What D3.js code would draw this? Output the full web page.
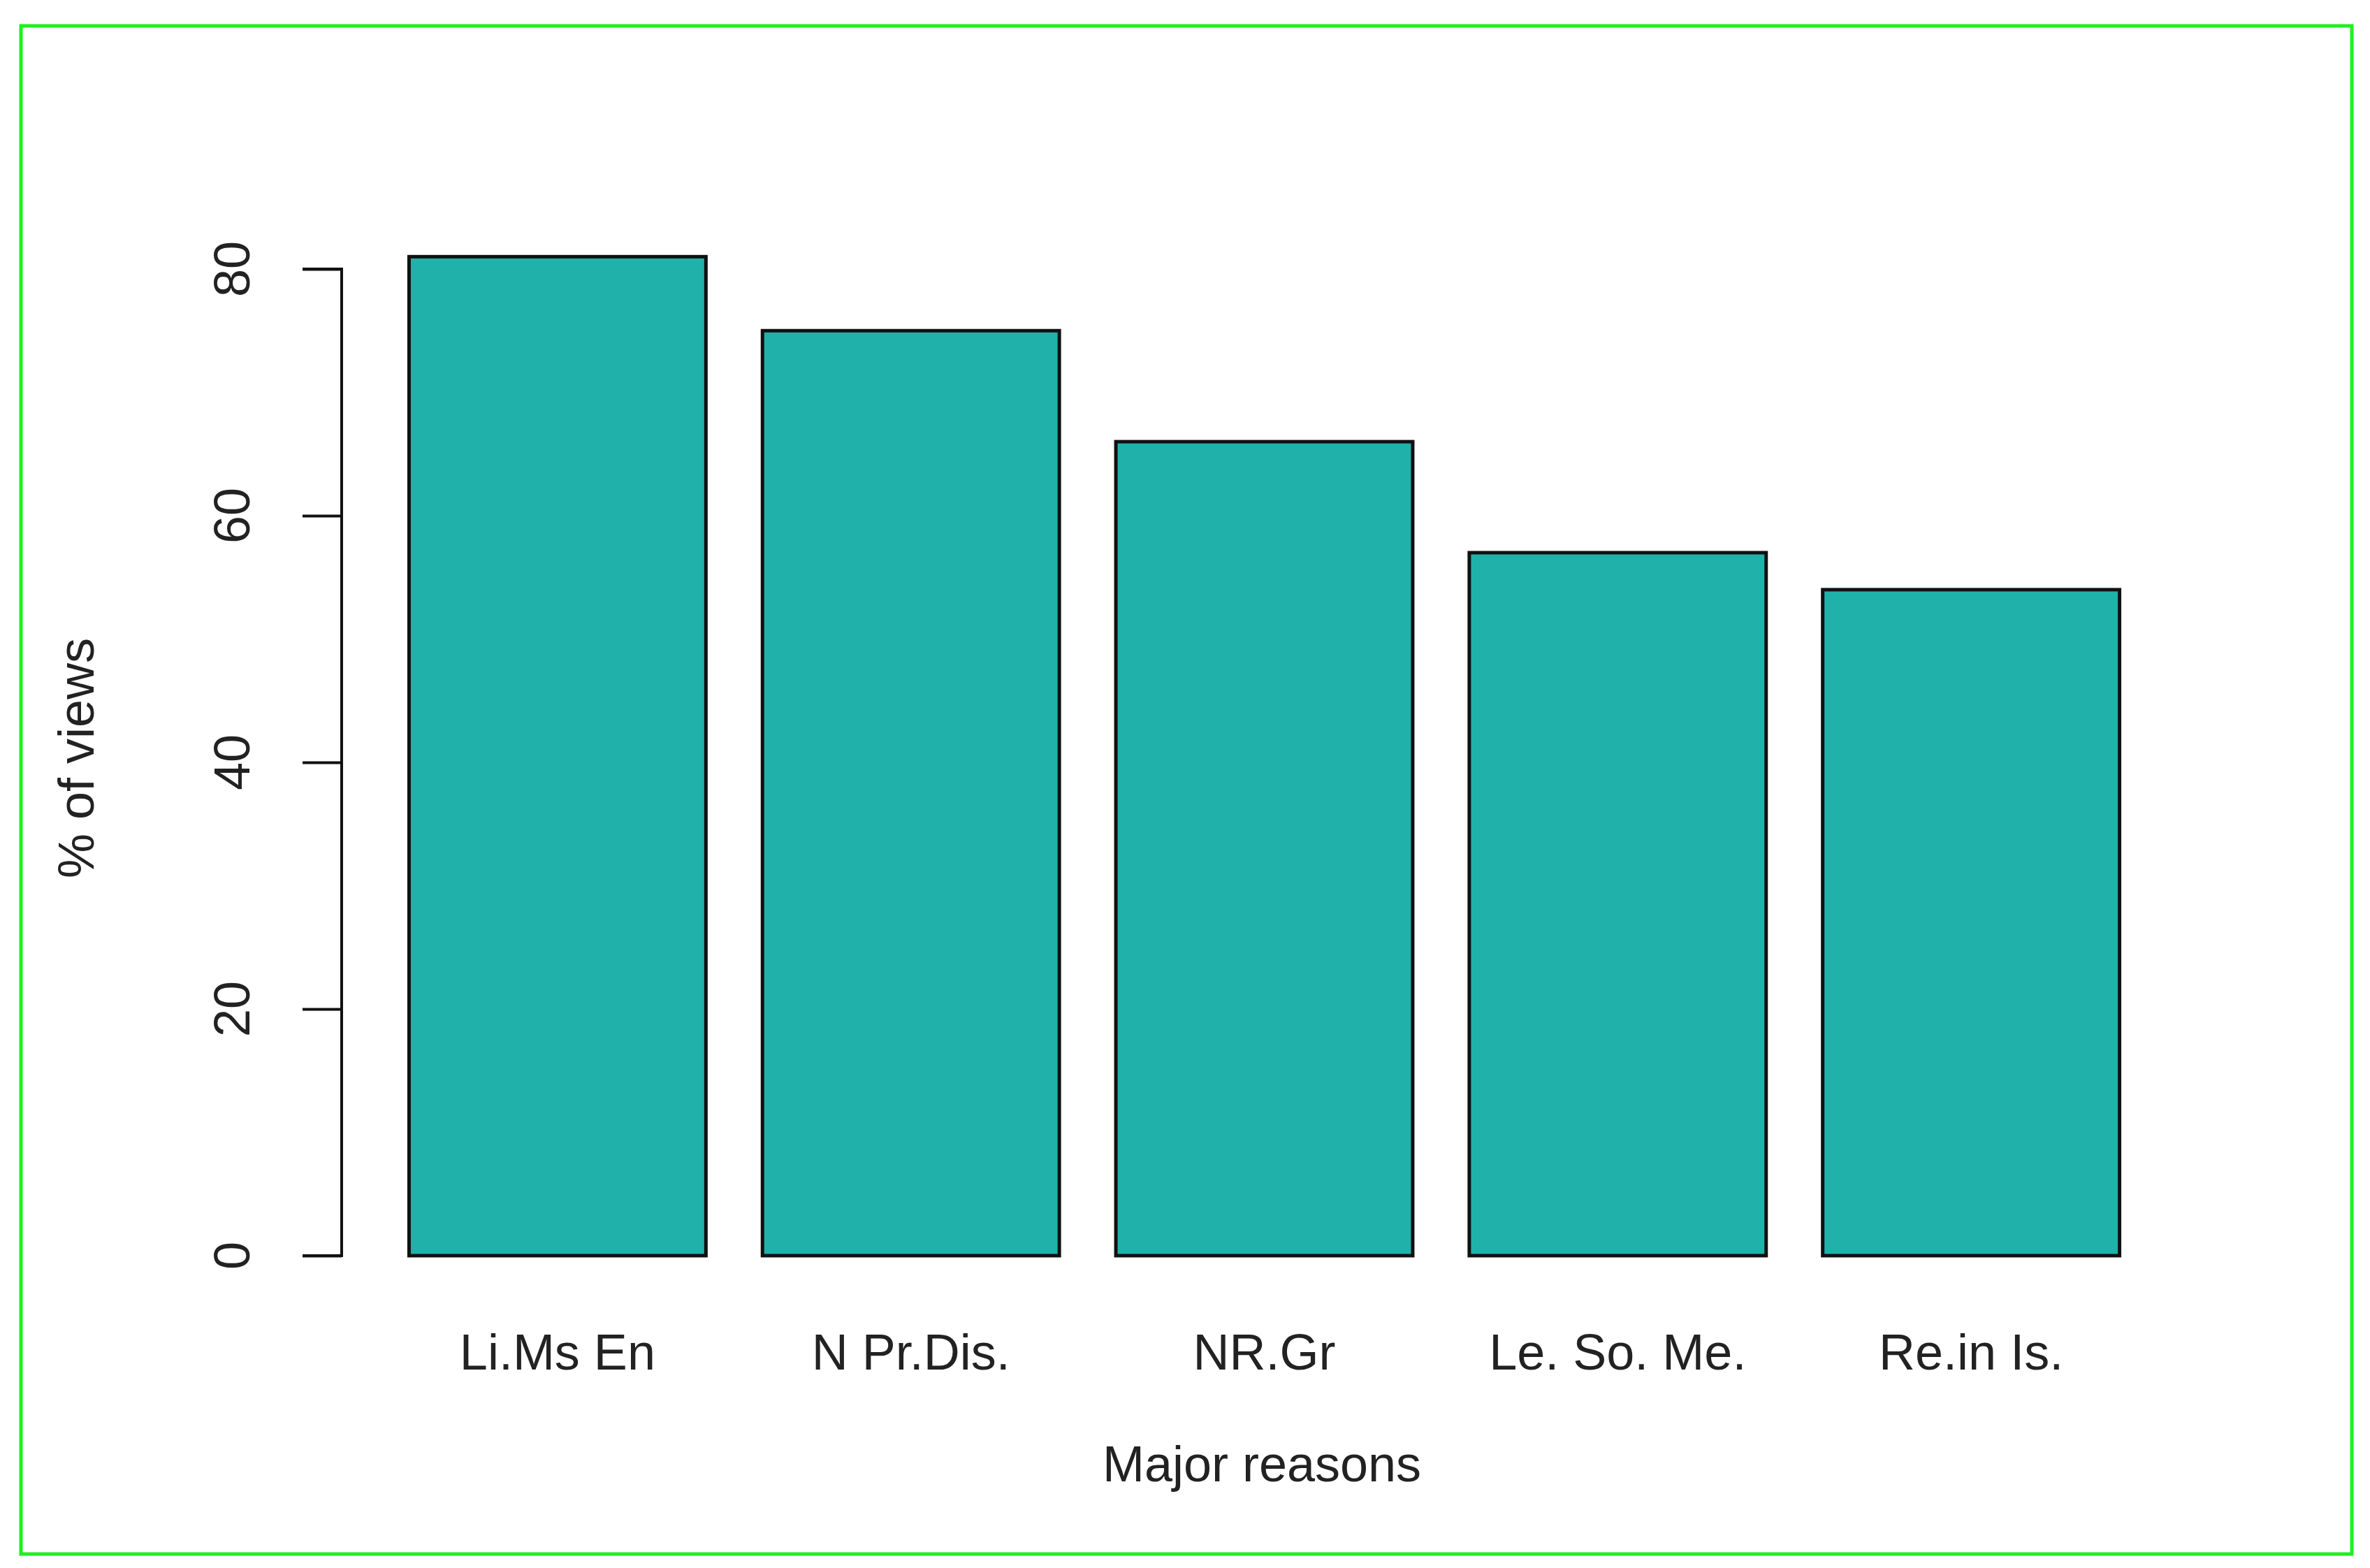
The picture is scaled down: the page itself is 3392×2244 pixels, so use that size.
<!DOCTYPE html>
<html><head><meta charset="utf-8">
<script src="https://cdn.jsdelivr.net/npm/d3@7"></script>
<style>body{margin:0;background:#fff}</style></head>
<body><svg id="c" width="3392" height="2244"></svg>
<script>
const categories = ["Li.Ms En","N Pr.Dis.","NR.Gr","Le. So. Me.","Re.in Is."];
const values = [81, 75, 66, 57, 54];
const yTicks = [0,20,40,60,80];

const svg = d3.select("#c");
svg.append("rect").attr("x",30).attr("y",37).attr("width",3336).attr("height",2187)
  .attr("fill","#fff").attr("stroke","#22ee22").attr("stroke-width",5);

const x = d3.scaleBand().domain(categories).range([545,3074]).paddingInner(0.16).paddingOuter(0.08);
const y = d3.scaleLinear().domain([0,80]).range([1797,385]);

svg.selectAll("rect.bar").data(values).enter().append("rect").attr("class","bar")
  .attr("x",(d,i)=>x(categories[i])).attr("width",x.bandwidth())
  .attr("y",d=>y(d)).attr("height",d=>y(0)-y(d))
  .attr("fill","#20b2aa").attr("stroke","#111").attr("stroke-width",5);

const ax = svg.append("g").attr("transform","translate(489,0)")
  .call(d3.axisLeft(y).tickValues(yTicks).tickSize(56).tickFormat(""));
ax.selectAll("path,line").attr("stroke","#111").attr("stroke-width",4);
ax.select(".domain").attr("d",`M-56,${y(0)}H0V${y(80)}H-56`);

const font = "'Liberation Sans Narrow','Liberation Sans',Arial,sans-serif";
svg.selectAll("text.yt").data(yTicks).enter().append("text")
  .attr("transform",d=>`translate(357,${y(d)}) rotate(-90)`)
  .attr("text-anchor","middle").attr("font-family",font).attr("font-size",72)
  .attr("fill","#222").text(d=>d);

svg.selectAll("text.xt").data(categories).enter().append("text")
  .attr("x",d=>x(d)+x.bandwidth()/2).attr("y",1960)
  .attr("text-anchor","middle").attr("font-family","'Liberation Sans',Arial,sans-serif")
  .attr("font-size",72).attr("fill","#222").text(d=>d);

svg.append("text").attr("x",1806).attr("y",2120).attr("text-anchor","middle")
  .attr("font-family","'Liberation Sans',Arial,sans-serif").attr("font-size",72)
  .attr("fill","#222").text("Major reasons");
svg.append("text").attr("transform","translate(134,1085) rotate(-90)").attr("text-anchor","middle")
  .attr("font-family",font).attr("font-size",72).attr("fill","#222").text("% of views");
</script></body></html>
